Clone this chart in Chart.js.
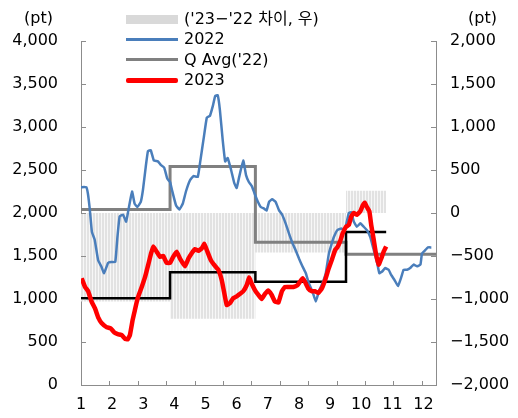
<!DOCTYPE html>
<html>
<head>
<meta charset="utf-8">
<script src="https://cdn.jsdelivr.net/npm/chart.js@4/dist/chart.umd.min.js"></script>
<style>
  body { margin: 0; background: #fff; }
  #wrap { position: relative; width: 518px; height: 418px; font-family: "DejaVu Sans", "Noto Sans CJK KR", sans-serif; font-size: 16px; color: #000; }
  #wrap canvas { position: absolute; left: 0; top: 0; }
  .txt { position: absolute; line-height: 20px; white-space: nowrap; }
  .sw { position: absolute; left: 126px; width: 52px; }
</style>
</head>
<body>
<div id="wrap">
  <canvas id="chart" width="518" height="418"></canvas>
  <div class="txt" style="left:24px; top:8px;">(pt)</div>
  <div class="txt" style="left:468px; top:8px;">(pt)</div>

  <div class="sw" style="top:15px; height:9px; background:#d9d9d9;"></div>
  <div class="txt" style="left:184px; top:9px;">('23−'22 차이, 우)</div>
  <div class="sw" style="top:38px; height:3px; background:#4a7ebb;"></div>
  <div class="txt" style="left:184px; top:29px;">2022</div>
  <div class="sw" style="top:58px; height:3px; background:#808080;"></div>
  <div class="txt" style="left:184px; top:50px;">Q Avg('22)</div>
  <div class="sw" style="top:78px; height:5px; background:#ff0000; border-radius:2px;"></div>
  <div class="txt" style="left:184px; top:70px;">2023</div>
</div>
<script>
// 2022 index (month position on the x axis)
var x22 = [1.0,1.17,1.22,1.28,1.35,1.44,1.55,1.65,1.74,1.87,
  1.97,2.10,2.17,2.24,2.35,2.45,2.53,2.64,2.72,2.81,
  2.92,2.99,3.08,3.15,3.24,3.34,3.47,3.56,3.67,3.77,
  3.86,3.92,4.05,4.16,4.27,4.37,4.50,4.61,4.75,4.83,
  4.94,5.04,5.14,5.23,5.31,5.39,5.46,5.55,5.63,5.71,
  5.82,5.92,6.00,6.08,6.21,6.30,6.39,6.49,6.57,6.68,
  6.77,6.88,6.96,7.04,7.14,7.25,7.36,7.46,7.57,7.68,
  7.79,7.89,8.00,8.11,8.22,8.32,8.43,8.54,8.64,8.75,
  8.86,8.96,9.04,9.12,9.23,9.36,9.47,9.60,9.68,9.76,
  9.86,9.97,10.08,10.18,10.29,10.40,10.51,10.58,10.67,10.77,
  10.88,10.96,11.07,11.18,11.29,11.36,11.47,11.57,11.68,11.79,
  11.90,11.95,12.06,12.14,12.25];
var v22 = [2300,2300,2230,2050,1780,1690,1450,1380,1300,1420,
  1430,1430,1720,1960,1980,1900,2050,2250,2110,2070,
  2130,2270,2540,2720,2730,2610,2600,2560,2530,2400,
  2360,2270,2090,2040,2110,2250,2380,2430,2420,2600,
  2870,3110,3130,3240,3360,3370,3200,2850,2600,2640,
  2500,2350,2290,2420,2610,2440,2360,2310,2230,2130,
  2070,2050,2030,2130,2160,2130,2030,1980,1880,1760,
  1650,1570,1470,1380,1300,1180,1090,970,1090,1180,
  1300,1530,1630,1720,1800,1820,1800,2000,2010,1900,
  1840,1880,1840,1800,1720,1570,1420,1300,1320,1360,
  1340,1280,1220,1150,1260,1340,1340,1360,1400,1380,
  1400,1530,1570,1600,1600];

// 2023 index
var x23 = [1.02,1.13,1.23,1.34,1.45,1.56,1.66,1.83,1.95,2.07,
  2.20,2.31,2.41,2.50,2.57,2.66,2.73,2.82,2.95,3.06,
  3.16,3.25,3.32,3.43,3.54,3.64,3.75,3.86,3.96,4.07,
  4.18,4.34,4.45,4.55,4.66,4.77,4.88,4.96,5.06,5.17,
  5.27,5.41,5.52,5.59,5.68,5.78,5.89,6.00,6.11,6.21,
  6.32,6.40,6.48,6.59,6.69,6.80,6.91,7.01,7.12,7.23,
  7.34,7.45,7.55,7.69,7.82,7.95,8.03,8.12,8.19,8.30,
  8.41,8.51,8.62,8.73,8.84,8.94,9.05,9.16,9.23,9.32,
  9.40,9.51,9.60,9.68,9.76,9.86,9.97,10.05,10.11,10.18,
  10.26,10.32,10.40,10.47,10.56,10.64,10.72,10.80];
var v23 = [1240,1140,1090,970,890,780,720,670,660,610,
  590,580,540,530,580,760,870,1010,1140,1260,
  1400,1530,1610,1550,1490,1500,1420,1420,1490,1550,
  1470,1380,1470,1530,1580,1560,1590,1640,1550,1450,
  1400,1340,1220,1090,930,950,1010,1030,1060,1090,
  1160,1250,1180,1100,1050,1000,1060,1100,1050,970,
  960,1090,1140,1140,1140,1160,1200,1240,1200,1120,
  1090,1090,1070,1120,1220,1340,1450,1570,1600,1670,
  1760,1840,1860,1960,2000,1980,2020,2090,2120,2070,
  2020,1860,1690,1530,1400,1470,1550,1610];

// quarter averages
var qStart = [1, 3.86, 6.6, 9.51];
var qEnd22 = 12.4;
var qEnd23 = 10.8;
var avg22 = [2040, 2540, 1660, 1520];
var avg23 = [1010, 1310, 1200, 1780];

var xTicks = [1,2,3,4,5,6,7,8,9,10,11,12];

function pts(xs, ys) {
    return xs.map(function (x, i) { return {x: x, y: ys[i]}; });
}
function steps(vals, end) {
    var p = qStart.map(function (q, i) { return {x: q, y: vals[i]}; });
    p.push({x: end, y: vals[vals.length - 1]});
    return p;
}
var diff = avg23.map(function (v, i) { return v - avg22[i]; });

// striped fill for the difference bars
var pc = document.createElement("canvas");
pc.width = 3; pc.height = 1;
var pctx = pc.getContext("2d");
pctx.fillStyle = "#f7f7f7"; pctx.fillRect(0, 0, 3, 1);
pctx.fillStyle = "#e2e2e2"; pctx.fillRect(0, 0, 2, 1);
var stripes = pctx.createPattern(pc, "repeat");

function fmt(v) {
    var s = Math.abs(v).toLocaleString("en-US");
    return v < 0 ? "−" + s : s;
}

// inward tick marks like the original
var tickMarks = {
    id: "tickMarks",
    afterDraw: function (chart) {
        var c = chart.ctx, a = chart.chartArea, s = chart.scales;
        c.save();
        c.strokeStyle = "#8c8c8c";
        c.lineWidth = 1;
        c.beginPath();
        s.y.ticks.forEach(function (t) {
            var p = Math.round(s.y.getPixelForValue(t.value)) + 0.5;
            c.moveTo(a.left, p); c.lineTo(a.left + 5, p);
        });
        s.y2.ticks.forEach(function (t) {
            var p = Math.round(s.y2.getPixelForValue(t.value)) + 0.5;
            c.moveTo(a.right - 5, p); c.lineTo(a.right, p);
        });
        var n = 12.5;
        for (var k = 0; k <= 12; k++) {
            var px = Math.round(a.left + k * (a.right - a.left) / n) + 0.5;
            c.moveTo(px, a.bottom); c.lineTo(px, a.bottom - 4);
        }
        c.stroke();
        c.restore();
    }
};

var font = {family: "'DejaVu Sans', 'Noto Sans CJK KR', sans-serif", size: 16};

new Chart("chart", {
    type: "line",
    data: {
        datasets: [{
            label: "2023",
            data: pts(x23, v23),
            borderColor: "#ff0000",
            borderWidth: 4.5,
            tension: 0.1,
            pointRadius: 0,
            yAxisID: "y",
            order: 1
        }, {
            label: "2022",
            data: pts(x22, v22),
            borderColor: "#4a7ebb",
            borderWidth: 2.5,
            tension: 0.1,
            pointRadius: 0,
            yAxisID: "y",
            order: 2
        }, {
            label: "Q Avg('23)",
            data: steps(avg23, qEnd23),
            borderColor: "#000000",
            borderWidth: 2.5,
            stepped: "before",
            pointRadius: 0,
            yAxisID: "y",
            order: 3
        }, {
            label: "Q Avg('22)",
            data: steps(avg22, qEnd22),
            borderColor: "#808080",
            borderWidth: 3,
            stepped: "before",
            pointRadius: 0,
            yAxisID: "y",
            order: 4
        }, {
            label: "('23−'22 차이, 우)",
            data: steps(diff, qEnd23),
            borderWidth: 0,
            borderColor: "rgba(0,0,0,0)",
            backgroundColor: stripes,
            fill: {value: 0},
            stepped: "before",
            pointRadius: 0,
            yAxisID: "y2",
            order: 5
        }]
    },
    options: {
        responsive: false,
        devicePixelRatio: 1,
        animation: false,
        layout: {padding: {top: 41, left: 0, right: 0, bottom: 0}},
        plugins: {legend: {display: false}, tooltip: {enabled: false}},
        scales: {
            x: {
                type: "linear",
                min: 1,
                max: 12.4,
                afterBuildTicks: function (s) {
                    s.ticks = xTicks.map(function (v) { return {value: v}; });
                },
                afterFit: function (s) { s.height = 33; },
                grid: {display: false, drawTicks: false},
                border: {display: true, color: "#8c8c8c", width: 1},
                ticks: {autoSkip: false, maxRotation: 0, padding: 10, color: "#000", font: font}
            },
            y: {
                position: "left",
                min: 0,
                max: 4000,
                afterFit: function (s) { s.width = 81; },
                grid: {display: false, drawTicks: false},
                border: {display: true, color: "#8c8c8c", width: 1},
                ticks: {stepSize: 500, padding: 23, color: "#000", font: font, callback: fmt}
            },
            y2: {
                position: "right",
                min: -2000,
                max: 2000,
                afterFit: function (s) { s.width = 82; },
                grid: {display: false, drawTicks: false},
                border: {display: true, color: "#8c8c8c", width: 1},
                ticks: {stepSize: 500, padding: 14, color: "#000", font: font, callback: fmt}
            }
        }
    },
    plugins: [tickMarks]
});
</script>
</body>
</html>
